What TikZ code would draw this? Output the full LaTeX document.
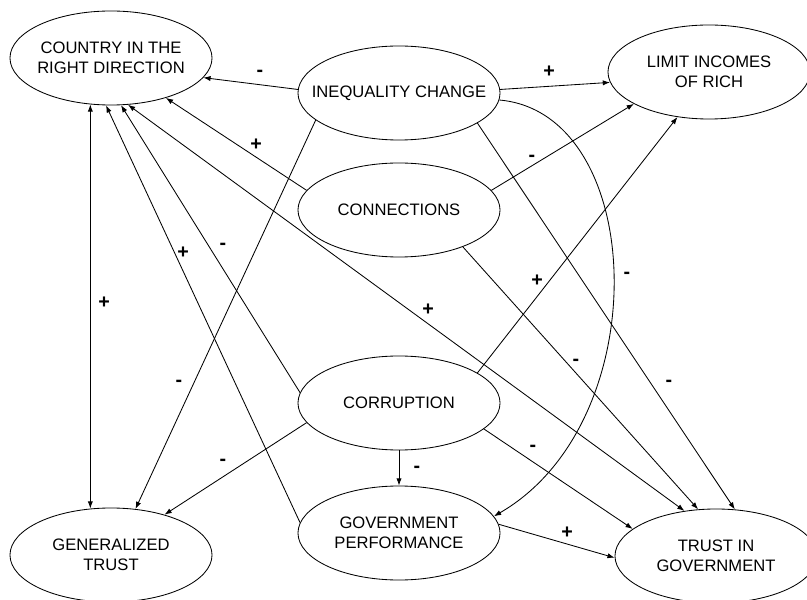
\documentclass[tikz,border=0pt]{standalone}
\usepackage{fontspec}
\setmainfont{Liberation Sans}
\usetikzlibrary{shapes.geometric}
\usetikzlibrary{arrows.meta}

\tikzset{
    factor/.style={ellipse, draw, line width=0.6pt, minimum width=5.05cm, minimum height=2.35cm,
        inner xsep=-0.6cm, inner ysep=0pt, align=center, font=\fontsize{11.8}{14.5}\selectfont},
    link/.style={->, line width=0.6pt},
    sign/.style={inner sep=0pt, font=\fontsize{14}{14}\selectfont\bfseries},
    >={Latex[length=1.8mm,width=1.3mm]},
}

\begin{document}
\begin{tikzpicture}[x=0.025cm, y=0.025cm]
            \useasboundingbox (0,0) rectangle (807,599);
            \clip (0,0) rectangle (807,599);

            % Factors
            \node[factor] (country)  at (111,541) {COUNTRY IN THE\\RIGHT DIRECTION};
            \node[factor] (ineq)     at (399,506) {INEQUALITY CHANGE};
            \node[factor] (limit)    at (709,527) {LIMIT INCOMES\\OF RICH};
            \node[factor] (conn)     at (399,389) {CONNECTIONS};
            \node[factor] (corr)     at (399,196) {CORRUPTION};
            \node[factor] (govperf)  at (399,66)  {GOVERNMENT\\PERFORMANCE};
            \node[factor] (gentrust) at (111,44)  {GENERALIZED\\TRUST};
            \node[factor] (trustgov) at (716,43)  {TRUST IN\\GOVERNMENT};

            % Into country in the right direction
            \draw [link] (ineq.178) -- (country.-12);
            \draw [link] (conn.168) -- (country.-36);
            \draw [link] (corr.174) -- (country.-78);
            \draw [link] (govperf.174) -- (country.-96);
            \draw [link, <->] (country.-70) -- (trustgov.125);
            \draw [link, <->] (country.-114.5) -- (gentrust.114.5);

            % Into limit incomes of rich
            \draw [link] (ineq.2) -- (limit.186);
            \draw [link] (conn.12) -- (limit.203);
            \draw [link] (corr.21) -- (limit.235);

            % Into generalized trust
            \draw [link] (ineq.-162) -- (gentrust.62);
            \draw [link] (corr.192) -- (gentrust.37);

            % Into government performance
            \draw [link] (corr) -- (govperf);
            \draw [link] (ineq.-4) to [out=-5, in=30, out looseness=0.91, in looseness=1.16] (govperf.10);

            % Into trust in government
            \draw [link] (conn.-30) -- (trustgov.111);
            \draw [link] (ineq.-21) -- (trustgov.68);
            \draw [link] (corr.-17) -- (trustgov.162);
            \draw [link] (govperf.5) -- (trustgov.181);

            % Signs
            \foreach \x/\y/\s [count=\i] in {260/526/-, 256/454/+, 549/527/+, 532/441/-, 104/296/+,
                    183/346/+, 223/353/-, 179/216/-, 428/289/+, 537/318/+, 627/324/-, 576/237/-,
                    669/216/-, 223/137/-, 417/130/-, 533/151/-, 567/66/+}
                \node[sign] (sign\i) at (\x,\y) {\s};
        \end{tikzpicture}
\end{document}
